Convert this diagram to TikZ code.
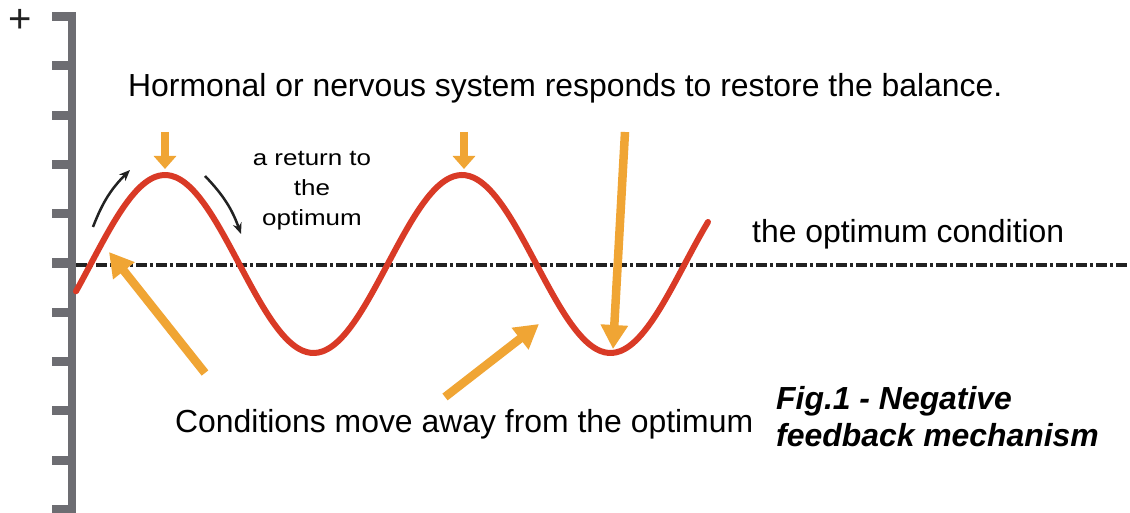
\documentclass[tikz,border=0pt]{standalone}
\usepackage{fontspec}
\setmainfont{Liberation Sans}
\usetikzlibrary{arrows.meta}
\definecolor{axisgray}{HTML}{6D6D72}
\definecolor{curvered}{HTML}{D93A26}
\definecolor{arroworange}{HTML}{F0A534}
\definecolor{inkblack}{HTML}{222222}
\begin{document}
\begin{tikzpicture}[x=1pt,y=-1pt,
  axisbar/.style={fill=axisgray},
  optline/.style={line width=3pt, inkblack, dash pattern=on 11pt off 3pt on 3pt off 3pt},
  wave/.style={curvered, line width=6pt, line cap=round},
  bigarrow/.style={arroworange, line width=8.5pt, -{Triangle[length=24pt,width=26pt]}},
  smallarrow/.style={arroworange, line width=8pt, -{Triangle[length=13pt,width=22pt]}},
  turnarrow/.style={inkblack, line width=2.5pt, -{Stealth[length=11pt,width=9pt]}},
  txt/.style={font=\fontsize{31.9}{37}\selectfont, inner sep=0pt, anchor=base west},
]
\useasboundingbox (0,0) rectangle (1130,513);
\fill[white] (0,0) rectangle (1130,513);

% axis
\fill[axisbar] (68,12) rectangle (76,513);
\foreach \i in {0,...,10} \fill[axisbar] (52,{12+49.3*\i}) rectangle (68,{21+49.3*\i});
\node[font=\fontsize{40}{40}\selectfont, text=inkblack, inner sep=0pt] (plus) at (20,21) {+};

% optimum line
\coordinate (optL) at (76,265);
\coordinate (optR) at (1130,265);
\draw[optline] (optL) -- (optR);

% wave
\draw[wave] plot[domain=76:708, samples=160, smooth] (\x, {264 - 89*sin((\x-90.75)*1.212121)});

% coordinates
\coordinate (peakAtop) at (165,132);
\coordinate (peakA) at (165,169);
\coordinate (peakBtop) at (464,132);
\coordinate (peakB) at (464,169);
\coordinate (troughtop) at (625,132);
\coordinate (trough) at (613,349);
\coordinate (leftsrc) at (205,373);
\coordinate (lefttip) at (109,252);
\coordinate (midsrc) at (445,397);
\coordinate (midtip) at (539,324);
\coordinate (riseA) at (93,227);
\coordinate (riseB) at (130,170);
\coordinate (fallA) at (205,176);
\coordinate (fallB) at (241,234);

% orange arrows
\draw[smallarrow] (peakAtop) -- (peakA);
\draw[smallarrow] (peakBtop) -- (peakB);
\draw[bigarrow] (troughtop) -- (trough);
\draw[bigarrow] (leftsrc) -- (lefttip);
\draw[bigarrow] (midsrc) -- (midtip);

% black turning arrows
\draw[turnarrow] (riseA) to[bend left=12] (riseB);
\draw[turnarrow] (fallA) to[bend left=12] (fallB);

% texts
\node[txt] (hormonal) at (128,97) {Hormonal or nervous system responds to restore the balance.};
\node[txt] (optcond) at (752,243) {the optimum condition};
\node[txt] (away) at (175,432) {Conditions move away from the optimum};
\node[font=\fontsize{31.9}{37}\selectfont\bfseries\itshape, align=left, anchor=north west, inner sep=0pt] (caption) at (776,386) {Fig.1 - Negative\\feedback mechanism};
\node[font=\fontsize{22}{30}\selectfont, align=center, anchor=north, inner sep=0pt, xscale=1.18, transform shape] (ret) at (312,151) {a return to\\the\\optimum};
\end{tikzpicture}
\end{document}
